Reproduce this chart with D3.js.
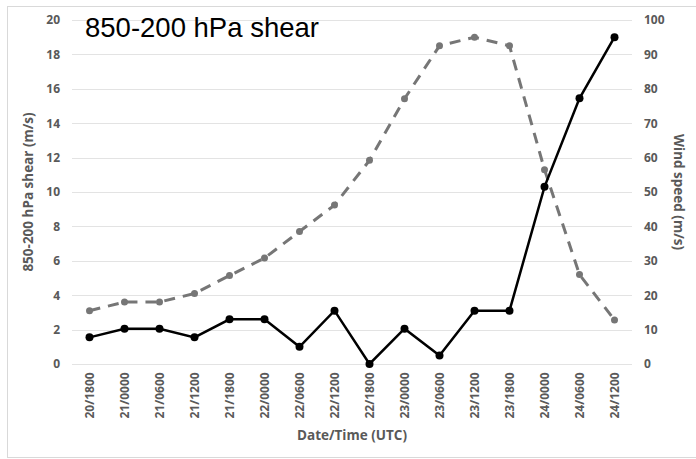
<!DOCTYPE html>
<html>
<head>
<meta charset="utf-8">
<script src="https://cdn.jsdelivr.net/npm/d3@7"></script>
<style>
  body { margin: 0; background: #fff; }
  .tick text { font-family: "Open Sans", sans-serif; font-weight: 700; font-size: 12px; fill: #595959; }
  .axis-title { font-family: "Open Sans", sans-serif; font-weight: 700; font-size: 13.5px; fill: #595959; }
</style>
</head>
<body>
<svg id="chart" width="696" height="459"></svg>
<script>
// categories and series
const times = ['20/1800', '21/0000', '21/0600', '21/1200', '21/1800', '22/0000', '22/0600', '22/1200',
  '22/1800', '23/0000', '23/0600', '23/1200', '23/1800', '24/0000', '24/0600', '24/1200']
const shear = [1.55, 2.05, 2.05, 1.55, 2.6, 2.6, 1.0, 3.1, 0.0, 2.05, 0.5, 3.1, 3.1, 10.3, 15.45, 19.0]
const windSpeed = [15.5, 18.0, 18.0, 20.5, 25.7, 30.8, 38.5, 46.2, 59.2, 77.1, 92.5, 95.0, 92.5, 56.5, 26.0, 12.8]
const leftTicks = d3.range(0, 21, 2)
const rightTicks = d3.range(0, 101, 10)

const margin = { top: 20, right: 64, left: 72, bottom: 95 }
const width = 696, height = 459
const svg = d3.select('#chart')

// outer frame
svg.append('rect')
  .attr('x', 7.5).attr('y', 6.5)
  .attr('width', 700).attr('height', 451)
  .attr('fill', 'none').attr('stroke', '#d9d9d9')

const x = d3.scaleBand().domain(times).range([margin.left, width - margin.right])
const yL = d3.scaleLinear().domain([0, 20]).range([height - margin.bottom, margin.top])
const yR = d3.scaleLinear().domain([0, 100]).range([height - margin.bottom, margin.top])
const cx = (d) => x(d) + x.bandwidth() / 2

// gridlines
svg.append('g')
  .selectAll('line')
  .data(leftTicks)
  .join('line')
  .attr('x1', margin.left).attr('x2', width - margin.right)
  .attr('y1', (d) => Math.round(yL(d)) + 0.5).attr('y2', (d) => Math.round(yL(d)) + 0.5)
  .attr('stroke', '#e3e3e3').attr('stroke-width', 1)

// left axis
const gl = svg.append('g')
  .attr('transform', `translate(${margin.left - 2},0)`)
  .call(d3.axisLeft(yL).tickValues(leftTicks).tickSize(0).tickPadding(10))
gl.select('.domain').remove()

// right axis
const gr = svg.append('g')
  .attr('transform', `translate(${width - margin.right},0)`)
  .call(d3.axisRight(yR).tickValues(rightTicks).tickSize(0).tickPadding(12))
gr.select('.domain').remove()

// bottom axis with rotated labels
const gb = svg.append('g')
  .attr('transform', `translate(0,${height - margin.bottom})`)
  .call(d3.axisBottom(x).tickSize(0))
gb.select('.domain').remove()
gb.selectAll('text')
  .attr('transform', 'rotate(-90)')
  .attr('text-anchor', 'end')
  .attr('dx', '-0.7em')
  .attr('dy', '0.35em')
  .attr('x', 0).attr('y', 0)

// axis titles
svg.append('text')
  .attr('class', 'axis-title')
  .attr('x', 352).attr('y', 440)
  .attr('text-anchor', 'middle')
  .text('Date/Time (UTC)')

svg.append('text')
  .attr('class', 'axis-title')
  .attr('transform', `translate(33,${(margin.top + height - margin.bottom) / 2}) rotate(-90)`)
  .attr('text-anchor', 'middle')
  .text('850-200 hPa shear (m/s)')

svg.append('text')
  .attr('class', 'axis-title')
  .attr('transform', `translate(674,${(margin.top + height - margin.bottom) / 2}) rotate(90)`)
  .attr('text-anchor', 'middle')
  .text('Wind speed (m/s)')

// wind speed (dashed grey, right axis)
const windLine = d3.line().x((d, i) => cx(times[i])).y((d) => yR(d))
svg.append('path')
  .datum(windSpeed)
  .attr('d', windLine)
  .attr('fill', 'none')
  .attr('stroke', '#767676')
  .attr('stroke-width', 3)
  .attr('stroke-dasharray', '11,8')

svg.append('g')
  .selectAll('circle')
  .data(windSpeed)
  .join('circle')
  .attr('cx', (d, i) => cx(times[i]))
  .attr('cy', (d) => yR(d))
  .attr('r', 3.5)
  .attr('fill', '#767676')

// shear (solid black, left axis)
const shearLine = d3.line().x((d, i) => cx(times[i])).y((d) => yL(d))
svg.append('path')
  .datum(shear)
  .attr('d', shearLine)
  .attr('fill', 'none')
  .attr('stroke', '#000')
  .attr('stroke-width', 2.5)

svg.append('g')
  .selectAll('circle')
  .data(shear)
  .join('circle')
  .attr('cx', (d, i) => cx(times[i]))
  .attr('cy', (d) => yL(d))
  .attr('r', 4)
  .attr('fill', '#000')

// chart title
svg.append('text')
  .attr('x', 85).attr('y', 37)
  .attr('font-family', '"Liberation Sans", Arial, sans-serif')
  .attr('font-size', 27.5)
  .attr('fill', '#000')
  .text('850-200 hPa shear')
</script>
</body>
</html>
